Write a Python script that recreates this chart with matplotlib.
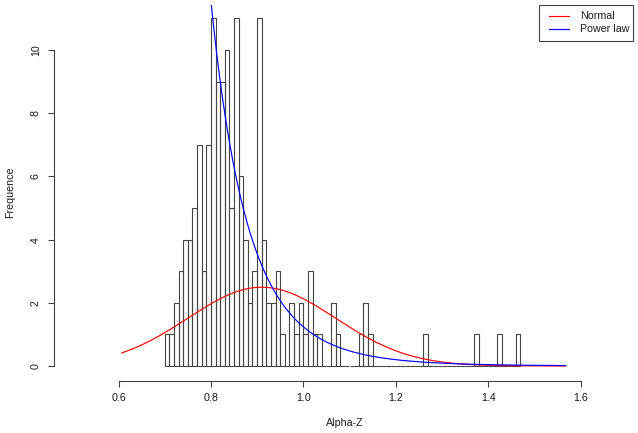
import numpy as np
import matplotlib
matplotlib.use("Agg")
import matplotlib.pyplot as plt
from matplotlib.patches import Rectangle
from matplotlib.lines import Line2D

# ---- data ----
bin_start = 0.70
bin_width = 0.01
counts = [1, 1, 2, 3, 4, 4, 5, 7, 3, 7,
          11, 9, 9, 10, 5, 11, 6, 4, 2, 3,
          11, 4, 2, 2, 3, 1, 0, 2, 1, 2,
          1, 3, 1, 1, 0, 0, 2, 1, 0, 0,
          0, 0, 1, 2, 1, 0, 0, 0, 0, 0,
          0, 0, 0, 0, 0, 0, 1, 0, 0, 0,
          0, 0, 0, 0, 0, 0, 0, 1, 0, 0,
          0, 0, 1, 0, 0, 0, 1]
# fitted model parameters
normal_mean = 0.91
normal_sd = 0.16
power_coef = 1.24
power_exp = 10.0
curve_range = (0.607, 1.568)

x_ticks = [0.6, 0.8, 1.0, 1.2, 1.4, 1.6]
x_ticklabels = ["0.6", "0.8", "1.0", "1.2", "1.4", "1.6"]
y_ticks = [0, 2, 4, 6, 8, 10]
legend_labels = ["Normal", "Power law"]
legend_colors = ["#ff0000", "#0000ff"]

# ---- figure ----
W, H = 638, 433
plt.rcParams["font.family"] = ["Liberation Sans", "DejaVu Sans"]
FS = 7.7
fig = plt.figure(figsize=(W / 100, H / 100), dpi=100)

L, R, T, B = 54.3, 632.7, 4.5, 380.7
ax = fig.add_axes([L / W, 1 - B / H, (R - L) / W, (B - T) / H])
ax.patch.set_alpha(0)

xpx0, xscale = 118.5, 462.0   # pixel of x=0.6, px per unit
ypx0, yscale = 366.0, 31.6    # pixel of y=0, px per unit
ax.set_xlim(0.6 + (L - xpx0) / xscale, 0.6 + (R - xpx0) / xscale)
ax.set_ylim((ypx0 - B) / yscale, (ypx0 - T) / yscale)

edge_col = "#444444"
lefts = bin_start + bin_width * np.arange(len(counts))
ax.bar(lefts, counts, width=bin_width, align="edge", facecolor="none",
       edgecolor=edge_col, linewidth=0.8)

xs = np.linspace(curve_range[0], curve_range[1], 400)
normal = np.exp(-0.5 * ((xs - normal_mean) / normal_sd) ** 2) / (normal_sd * np.sqrt(2 * np.pi))
power = power_coef * xs ** (-power_exp)
ax.plot(xs, normal, color=legend_colors[0], lw=0.85)
ax.plot(xs, power, color=legend_colors[1], lw=0.85)

for s in ["top", "right"]:
    ax.spines[s].set_visible(False)
ax.spines["left"].set_bounds(0, 10)
ax.spines["bottom"].set_bounds(0.6, 1.6)
for s in ["left", "bottom"]:
    ax.spines[s].set_color(edge_col)
    ax.spines[s].set_linewidth(0.8)

ax.set_xticks(x_ticks)
ax.set_xticklabels(x_ticklabels)
ax.set_yticks(y_ticks)
ax.tick_params(direction="out", length=4, width=0.8, color=edge_col,
               labelsize=FS, labelcolor="#1a1a1a")
ax.tick_params(axis="x", pad=5)
ax.tick_params(axis="y", pad=5.6, labelrotation=90)
for lab in ax.get_yticklabels():
    lab.set_va("center")

ax.set_xlabel("Alpha-Z", fontsize=FS, color="#1a1a1a")
ax.set_ylabel("Frequence", fontsize=FS, color="#1a1a1a")
ax.xaxis.set_label_coords((345 - L) / (R - L), (B - 423) / (B - T))
ax.yaxis.set_label_coords((10 - L) / (R - L), (B - 192.6) / (B - T))
ax.xaxis.label.set_va("center")
ax.yaxis.label.set_va("center")

# ---- legend box (R-style, top-right of plot region) ----
def fx(x):
    return x / W
def fy(y):
    return 1 - y / H

fig.add_artist(Rectangle((fx(539), fy(40.7)), (632.7 - 539) / W, (40.7 - 4.7) / H,
                         transform=fig.transFigure, facecolor="white",
                         edgecolor="#444444", linewidth=0.8))
for i, (lab, col) in enumerate(zip(legend_labels, legend_colors)):
    yy = 15.9 + i * 13.3
    fig.add_artist(Line2D([fx(549), fx(569)], [fy(yy), fy(yy)],
                          transform=fig.transFigure, color=col, lw=0.85))
    fig.text(fx(580), fy(yy), lab, fontsize=FS, color="#1a1a1a",
             ha="left", va="center")

fig.savefig("out.png", dpi=100)
